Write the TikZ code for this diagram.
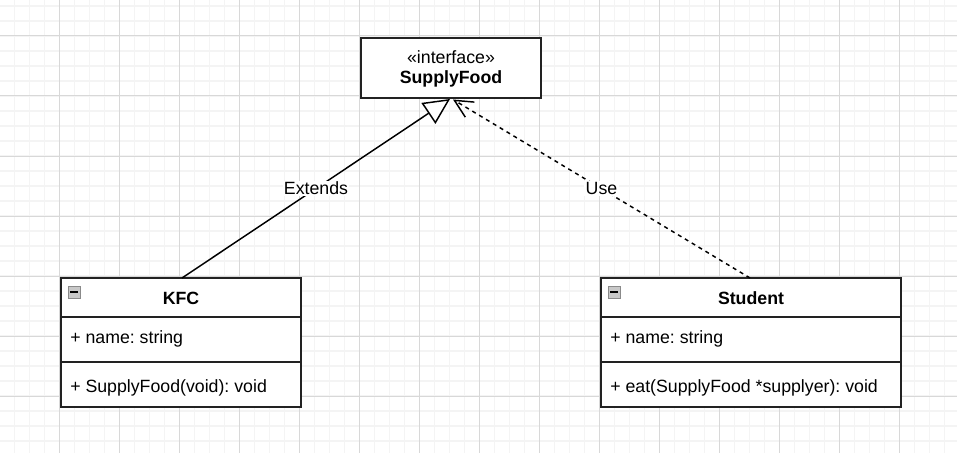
\documentclass[tikz,border=0pt]{standalone}
\usepackage{fontspec}
\setmainfont{Liberation Sans}
\frenchspacing
\usetikzlibrary{arrows.meta,calc}
\definecolor{boxc}{HTML}{222222}
\definecolor{gridminor}{HTML}{F4F4F4}
\definecolor{gridmajor}{HTML}{D8D8D8}
\definecolor{iconfill}{HTML}{C8C8C8}
\definecolor{icondraw}{HTML}{8A8A8A}
\begin{document}
\begin{tikzpicture}[x=0.75pt,y=-0.75pt,
  box/.style={draw=boxc, line width=1.1pt, fill=white, rectangle, inner sep=0pt, outer sep=0pt, anchor=north west},
  boxline/.style={draw=boxc, line width=1.1pt},
  txt/.style={font=\fontsize{13.3}{16}\selectfont, inner sep=0pt, text=black},
  btxt/.style={font=\fontsize{13.3}{16}\selectfont\bfseries, inner sep=0pt, text=black},
  lbl/.style={font=\fontsize{13.3}{16}\selectfont, inner sep=1pt, fill=white, text=black},
  conn/.style={draw=black, line width=1.1pt},
  minorline/.style={draw=gridminor, line width=1.3pt},
  majorline/.style={draw=gridmajor, line width=0.75pt},
  icon/.style={draw=icondraw, fill=iconfill, line width=0.6pt, rectangle, inner sep=0pt, outer sep=0pt, minimum width=9pt, minimum height=9pt, anchor=north west}
]
\useasboundingbox (0,0) rectangle (957,453);
\fill[white] (0,0) rectangle (957,453);
% grid
\foreach \i in {0,...,64} {\draw[minorline] ({15*\i-0.5},0) -- ({15*\i-0.5},453);}
\foreach \j in {0,...,29} {\draw[minorline] (0,{6+15*\j}) -- (957,{6+15*\j});}
\foreach \i in {0,...,16} {\draw[majorline] ({60*\i-0.5},0) -- ({60*\i-0.5},453);}
\foreach \j in {0,...,6} {\draw[majorline] (0,{36+60*\j}) -- (957,{36+60*\j});}

% interface
\node[box, minimum width=135pt, minimum height=45pt] (sf) at (361,38) {};
\node[txt, anchor=base] (sfst) at (451,63.5) {«interface»};
\node[btxt, anchor=base] (sfname) at (451,84) {SupplyFood};

% KFC class
\node[box, minimum width=180pt, minimum height=96.75pt] (kfc) at (61,278) {};
\draw[boxline] ($(kfc.north west)+(0,39)$) -- ($(kfc.north east)+(0,39)$);
\draw[boxline] ($(kfc.north west)+(0,84)$) -- ($(kfc.north east)+(0,84)$);
\node[icon] (kfcicon) at (68,286) {};
\draw[black, line width=1.1pt] ($(kfcicon.west)+(2,0)$) -- ($(kfcicon.east)+(-2,0)$);
\node[btxt, anchor=base] (kfcname) at (181,304) {KFC};
\node[txt, anchor=base west] (kfcattr) at (70,343.3) {+ name: string};
\node[txt, anchor=base west] (kfcop) at (70,392.5) {+ SupplyFood(void): void};

% Student class
\node[box, minimum width=225pt, minimum height=96.75pt] (st) at (601,278) {};
\draw[boxline] ($(st.north west)+(0,39)$) -- ($(st.north east)+(0,39)$);
\draw[boxline] ($(st.north west)+(0,84)$) -- ($(st.north east)+(0,84)$);
\node[icon] (sticon) at (608,286) {};
\draw[black, line width=1.1pt] ($(sticon.west)+(2,0)$) -- ($(sticon.east)+(-2,0)$);
\node[btxt, anchor=base] (stname) at (751,304) {Student};
\node[txt, anchor=base west] (stattr) at (610,343.3) {+ name: string};
\node[txt, anchor=base west] (stop) at (610,392.5) {+ eat(SupplyFood *supplyer): void};

% connectors
\coordinate (extend end) at ($(sf.south)+(-1,1)$);
\coordinate (use end) at ($(sf.south)+(2,1.5)$);
\draw[conn, -{Triangle[length=19.5pt,width=18.75pt,fill=white,line width=1.1pt]}]
  ($(kfc.north)+(1,0)$) -- node[lbl, midway] (extlbl) {Extends} (extend end);
\draw[conn, dash pattern=on 3pt off 3pt, -{Straight Barb[length=13.5pt,width=13.2pt,line width=1.1pt]}]
  ($(st.north)+(-1,0)$) -- node[lbl, midway] (uselbl) {Use} (use end);
\end{tikzpicture}
\end{document}
